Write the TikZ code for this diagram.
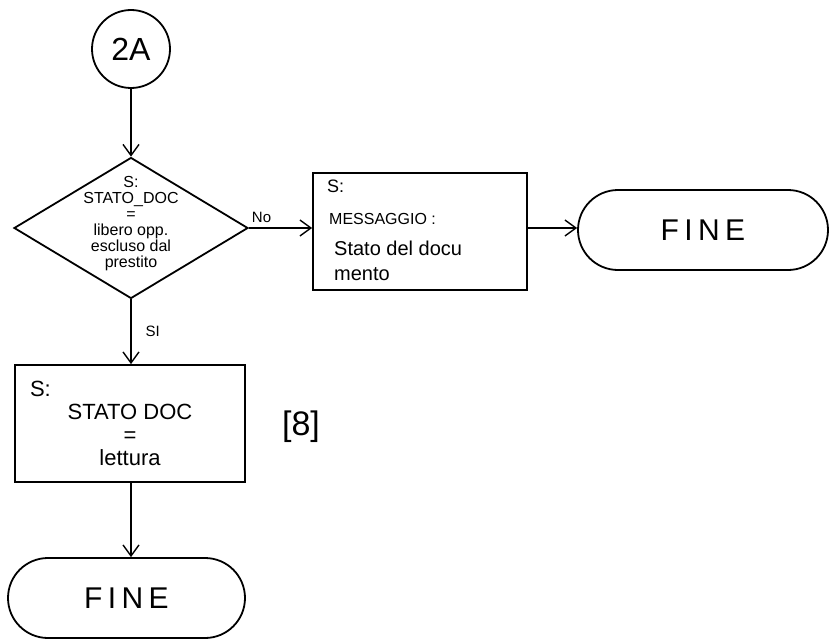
\documentclass[tikz,border=0pt]{standalone}
\usepackage{fontspec}
\setmainfont{Liberation Sans}
\usetikzlibrary{shapes.geometric,shapes.misc,arrows.meta}
\begin{document}
\begin{tikzpicture}[x=1pt,y=-1pt,
  every node/.style={inner sep=0pt},
  arr/.style={line width=1.4pt, -{Straight Barb[length=11pt,width=16pt,line width=1.4pt]}},
  boxst/.style={draw,line width=1.8pt,rectangle},
  termst/.style={draw,line width=1.8pt,rounded rectangle,font=\fontsize{30}{32}\selectfont\addfontfeature{LetterSpace=18}},
  connst/.style={draw,line width=1.8pt,circle,font=\fontsize{32}{34}\selectfont},
  decst/.style={draw,line width=1.8pt,diamond},
  lbl/.style={font=\fontsize{15}{17}\selectfont},
  txt/.style={anchor=base west}
]
\useasboundingbox (0,0) rectangle (832,642);
\node[connst, minimum size=78pt] (c2a) at (131,49) {2A};
\node[decst, minimum width=234pt, minimum height=141pt] (dec) at (131,228) {};
\node[align=center, font=\fontsize{16}{16}\selectfont] (dect) at (131,224)
  {S:\\STATO\_DOC\\=\\libero opp.\\escluso dal\\prestito};
\node[boxst, minimum width=214pt, minimum height=117pt] (msg) at (420,231.5) {};
\node[txt, font=\fontsize{18}{20}\selectfont] (m1) at (327,192) {S:};
\node[txt, font=\fontsize{16}{18}\selectfont] (m2) at (329,224) {MESSAGGIO :};
\node[txt, font=\fontsize{20}{22}\selectfont] (m3) at (334,255) {Stato del docu};
\node[txt, font=\fontsize{20}{22}\selectfont] (m4) at (334,280) {mento};
\node[termst, minimum width=250pt, minimum height=80pt] (fine1) at (703,230) {FINE};
\node[boxst, minimum width=230pt, minimum height=117pt, align=center,
  font=\fontsize{22}{23}\selectfont] (st) at (130,423.5)
  {\makebox[200pt][l]{S:}\\STATO DOC\\=\\lettura};
\node[termst, minimum width=237pt, minimum height=80pt] (fine2) at (126.5,598) {FINE};
\node[font=\fontsize{34}{36}\selectfont] (ref) at (301,427) {[8]};
\draw[arr] (c2a) -- (dec.north);
\draw[arr] (dec.east) -- node[lbl, above=5pt, pos=0.2] (no) {No} (dec.east -| msg.west);
\draw[arr] (dec.east -| msg.east) -- (dec.east -| fine1.west);
\draw[arr] (dec.south) -- node[lbl, right=14pt] (si) {SI} (dec.south |- st.north);
\draw[arr] (dec.south |- st.south) -- (dec.south |- fine2.north);
\end{tikzpicture}
\end{document}
